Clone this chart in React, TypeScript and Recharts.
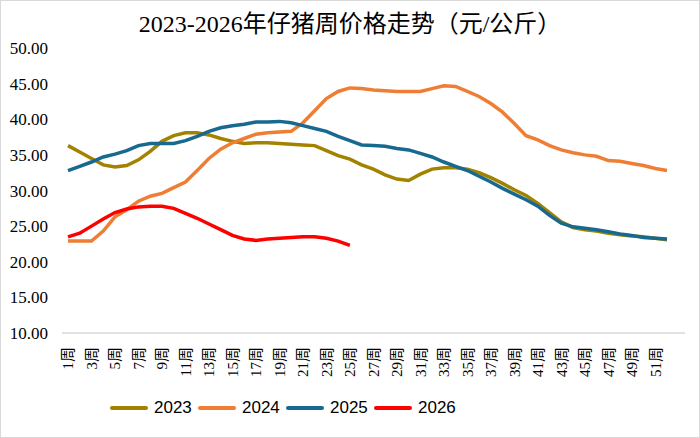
import { LineChart, Line, XAxis, YAxis, Legend } from "recharts";

// 周次 1..52
const weeks = Array.from({ length: 52 }, (_, i) => i + 1);

const price2023 = [
  36.3, 35.4, 34.5, 33.6, 33.3, 33.5, 34.3, 35.5, 36.9, 37.7,
  38.1, 38.1, 37.8, 37.3, 36.9, 36.6, 36.7, 36.7, 36.6, 36.5,
  36.4, 36.3, 35.6, 34.9, 34.4, 33.6, 33.0, 32.2, 31.6, 31.4,
  32.3, 33.0, 33.2, 33.2, 33.0, 32.5, 31.8, 31.0, 30.1, 29.3,
  28.2, 26.9, 25.6, 24.8, 24.5, 24.3, 24.0, 23.8, 23.6, 23.5,
  23.3, 23.1,
];

const price2024 = [
  22.9, 22.9, 22.9, 24.3, 26.3, 27.3, 28.5, 29.2, 29.6, 30.4,
  31.2, 32.8, 34.5, 35.8, 36.7, 37.3, 37.9, 38.1, 38.2, 38.3,
  39.5, 41.2, 42.9, 43.9, 44.4, 44.3, 44.1, 44.0, 43.9, 43.9,
  43.9, 44.3, 44.7, 44.6, 43.9, 43.2, 42.2, 41.0, 39.4, 37.7,
  37.1, 36.3, 35.7, 35.3, 35.0, 34.8, 34.2, 34.1, 33.8, 33.5,
  33.1, 32.8,
];

const price2025 = [
  32.8, 33.4, 34.0, 34.7, 35.1, 35.6, 36.3, 36.6, 36.6, 36.6,
  37.0, 37.6, 38.3, 38.8, 39.1, 39.3, 39.6, 39.6, 39.7, 39.5,
  39.1, 38.7, 38.3, 37.6, 37.0, 36.4, 36.3, 36.2, 35.9, 35.7,
  35.2, 34.7, 34.0, 33.4, 32.8, 32.0, 31.2, 30.3, 29.5, 28.7,
  27.8, 26.5, 25.4, 24.9, 24.7, 24.5, 24.2, 23.9, 23.7, 23.4,
  23.3, 23.2,
];

const price2026 = [
  23.5, 24.0, 25.0, 26.0, 26.9, 27.4, 27.7, 27.8, 27.8, 27.5,
  26.8, 26.1, 25.3, 24.5, 23.7, 23.2, 23.0, 23.2, 23.3, 23.4,
  23.5, 23.5, 23.3, 22.9, 22.3,
];

const yTicks = [10, 15, 20, 25, 30, 35, 40, 45, 50];

const seriesDefs = [
  { key: "y2023", name: "2023", color: "#A38200", values: price2023 },
  { key: "y2024", name: "2024", color: "#EF7E34", values: price2024 },
  { key: "y2025", name: "2025", color: "#17698F", values: price2025 },
  { key: "y2026", name: "2026", color: "#FF0000", values: price2026 },
];

const data = weeks.map((w, i) => {
  const row: Record<string, number | null> = { week: w };
  seriesDefs.forEach((s) => {
    row[s.key] = i < s.values.length ? s.values[i] : null;
  });
  return row;
});

const SERIF = "'Liberation Serif', 'Times New Roman', 'Noto Sans CJK SC', serif";
const SANS = "'Liberation Sans', Arial, sans-serif";

function WeekTick({ x, y, payload }: any) {
  return (
    <text
      x={x}
      y={y}
      transform={`rotate(-90, ${x}, ${y})`}
      textAnchor="end"
      dy="0.36em"
      fontSize={15}
      fontFamily={SERIF}
      fill="#000"
    >
      {payload.value}周
    </text>
  );
}

function LegendContent({ payload }: any) {
  return (
    <div style={{ display: "flex", alignItems: "center", height: 20 }}>
      {(payload || []).map((item: any) => (
        <div
          key={item.value}
          style={{ display: "flex", alignItems: "center", width: 88 }}
        >
          <span
            style={{
              display: "inline-block",
              width: 38,
              height: 4,
              borderRadius: 2,
              background: item.color,
              marginRight: 6,
            }}
          />
          <span style={{ fontFamily: SANS, fontSize: 17, color: "#000" }}>
            {item.value}
          </span>
        </div>
      ))}
    </div>
  );
}

export default function App() {
  return (
    <div
      style={{
        position: "absolute",
        left: 0,
        top: 0,
        width: 700,
        height: 438,
        background: "#fff",
        outline: "1.5px solid #d9d9d9",
        outlineOffset: -1.5,
      }}
    >
      <svg
        width={700}
        height={44}
        style={{ position: "absolute", left: 0, top: 0 }}
      >
        <text
          x={350}
          y={32}
          textAnchor="middle"
          fontSize={24}
          fontFamily={SERIF}
          fill="#000"
        >
          2023-2026年仔猪周价格走势（元/公斤）
        </text>
      </svg>
      <LineChart
        width={700}
        height={438}
        data={data}
        margin={{ top: 48, right: 15, bottom: 20, left: 0 }}
      >
        <XAxis
          dataKey="week"
          interval={1}
          padding={{ left: 6, right: 18 }}
          axisLine={{ stroke: "#d9d9d9", strokeWidth: 1.5 }}
          tickLine={false}
          tickMargin={8}
          height={65}
          tick={<WeekTick />}
        />
        <YAxis
          width={62}
          domain={[10, 50]}
          ticks={yTicks}
          tickFormatter={(v: number) => v.toFixed(2)}
          axisLine={false}
          tickLine={false}
          tickMargin={8}
          tick={{ fontSize: 17, fontFamily: SERIF, fill: "#000" }}
        />
        <Legend
          verticalAlign="bottom"
          content={<LegendContent />}
          wrapperStyle={{ left: 110, width: 360, bottom: 20, height: 20 }}
        />
        {seriesDefs.map((s) => (
          <Line
            key={s.key}
            type="linear"
            dataKey={s.key}
            name={s.name}
            stroke={s.color}
            strokeWidth={3.5}
            dot={false}
            activeDot={false}
            connectNulls={false}
            isAnimationActive={false}
          />
        ))}
      </LineChart>
    </div>
  );
}
